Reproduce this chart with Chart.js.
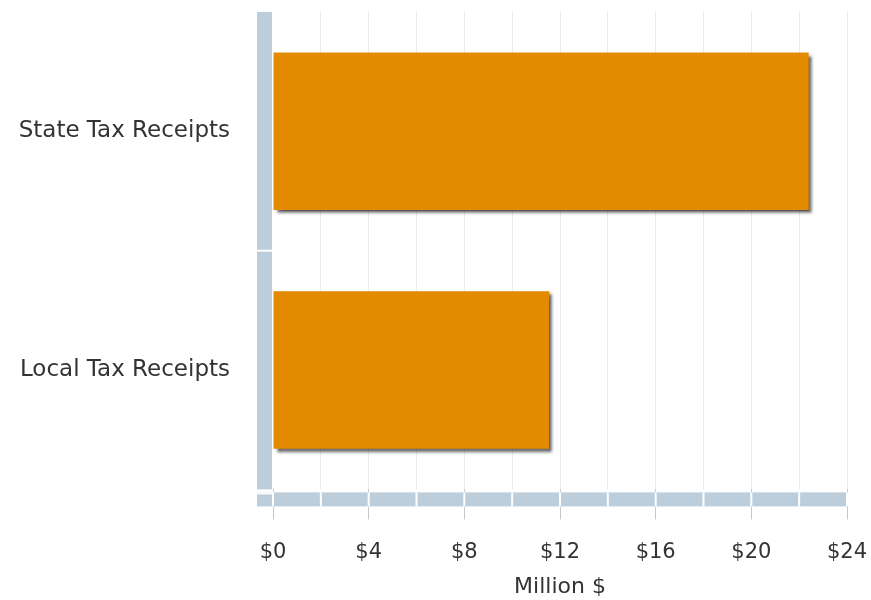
<!DOCTYPE html>
<html>
<head>
<meta charset="utf-8">
<script src="https://cdn.jsdelivr.net/npm/chart.js@4/dist/chart.umd.min.js"></script>
<style>
  body { margin: 0; background: #fff; }
  #wrap { width: 871px; height: 600px; }
</style>
</head>
<body>
<div id="wrap"><canvas id="chart"></canvas></div>
<script>
const categories = ["State Tax Receipts", "Local Tax Receipts"];
const receipts = [22.4, 11.55];
const axisMax = 24;
const gridStep = 2;
const labelStep = 4;

const wallColor = "#bccddc";

// draws the light blue "walls" left of and below the plot, and the bar shadows
const wallPlugin = {
    id: "walls",
    beforeDatasetsDraw(chart) {
        const ctx = chart.ctx;
        const area = chart.chartArea;
        const x = chart.scales.x;
        const y = chart.scales.y;
        ctx.save();
        ctx.fillStyle = wallColor;
        ctx.fillRect(area.left - 16, area.top, 15, area.bottom - area.top);
        ctx.fillRect(area.left - 16, area.bottom + 3, area.right - area.left + 16, 14);
        ctx.fillStyle = "#ffffff";
        const mid = (y.getPixelForValue(0) + y.getPixelForValue(1)) / 2;
        ctx.fillRect(area.left - 16, mid - 1, 15, 2);
        ctx.fillRect(area.left - 16, area.bottom + 3, 16, 2);
        for (let v = 0; v <= axisMax; v += gridStep) {
            const px = x.getPixelForValue(v);
            ctx.fillRect(px - 1, area.bottom + 3, 2, 14);
        }
        ctx.restore();
    },
    beforeDatasetDraw(chart) {
        const ctx = chart.ctx;
        ctx.save();
        ctx.shadowColor = "rgba(0,0,0,0.65)";
        ctx.shadowBlur = 3;
        ctx.shadowOffsetX = 3;
        ctx.shadowOffsetY = 3;
    },
    afterDatasetDraw(chart) {
        chart.ctx.restore();
    }
};

const ctx = document.getElementById("chart").getContext("2d");
new Chart(ctx, {
    type: "bar",
    data: {
        labels: categories,
        datasets: [{
            label: "Million $",
            data: receipts,
            backgroundColor: "#e38a00",
            borderWidth: 0,
            categoryPercentage: 1,
            barPercentage: 0.66
        }]
    },
    options: {
        indexAxis: "y",
        responsive: true,
        maintainAspectRatio: false,
        animation: false,
        layout: { padding: { top: 12, right: 24, bottom: 0, left: 18 } },
        plugins: {
            legend: { display: false },
            tooltip: { enabled: false }
        },
        scales: {
            x: {
                min: 0,
                max: axisMax,
                border: { display: false },
                grid: {
                    color: ctx => ctx.tick && ctx.tick.value === 0 ? "transparent" : "#ebebeb",
                    tickColor: ctx => ctx.tick && ctx.tick.value % labelStep === 0 ? "#c8c8c8" : "transparent",
                    tickLength: 30
                },
                ticks: {
                    stepSize: gridStep,
                    padding: 21,
                    color: "#333",
                    font: { family: "DejaVu Sans", size: 21 },
                    maxRotation: 0,
                    autoSkip: false,
                    callback: v => v % labelStep === 0 ? "$" + v : ""
                },
                title: {
                    display: true,
                    text: "Million $",
                    color: "#333",
                    font: { family: "DejaVu Sans", size: 22 },
                    padding: { top: -13, bottom: 0 }
                },
                afterFit(scale) {
                    scale.paddingLeft = 0;
                    scale.paddingRight = 0;
                }
            },
            y: {
                border: { display: false },
                grid: { display: false, drawTicks: false },
                ticks: {
                    padding: 43,
                    color: "#333",
                    font: { family: "DejaVu Sans", size: 23 }
                },
                afterFit(scale) {
                    scale.width = 255;
                    scale.paddingTop = 0;
                    scale.paddingBottom = 0;
                }
            }
        }
    },
    plugins: [wallPlugin]
});
</script>
</body>
</html>
